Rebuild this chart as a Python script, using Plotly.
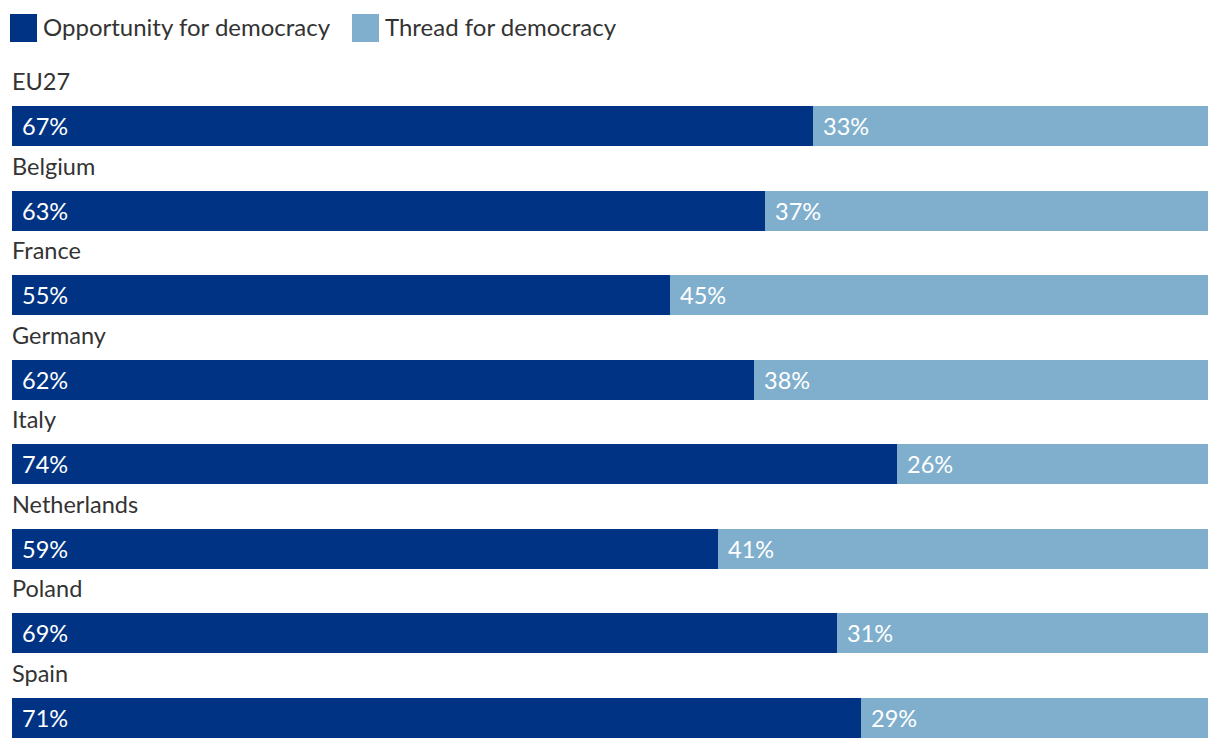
import plotly.graph_objects as go

countries = ["EU27", "Belgium", "France", "Germany", "Italy", "Netherlands", "Poland", "Spain"]
opportunity = [67, 63, 55, 62, 74, 59, 69, 71]
threat = [33, 37, 45, 38, 26, 41, 31, 29]
series_names = ["Opportunity for democracy", "Thread for democracy"]
colors = ["#003383", "#7FAFCD"]

FONT = "Lato, 'Open Sans', sans-serif"
TEXT = "#333333"
LBL = 23.5

fig = go.Figure()
fig.add_trace(go.Bar(y=countries, x=opportunity, orientation="h", name=series_names[0],
                     marker=dict(color=colors[0], line=dict(width=0)), width=0.473,
                     hoverinfo="x+y"))
fig.add_trace(go.Bar(y=countries, x=threat, orientation="h", name=series_names[1],
                     marker=dict(color=colors[1], line=dict(width=0)), width=0.473,
                     hoverinfo="x+y"))

annotations = []
for c, o, t in zip(countries, opportunity, threat):
    annotations.append(dict(x=0, y=c, xref="x", yref="y", text=c, showarrow=False,
                            xanchor="left", yanchor="middle", yshift=45, xshift=-2,
                            font=dict(family=FONT, size=LBL, color=TEXT)))
    annotations.append(dict(x=0, y=c, xref="x", yref="y", text=f"{o}%", showarrow=False,
                            xanchor="left", yanchor="middle", xshift=8,
                            font=dict(family=FONT, size=LBL, color="white")))
    annotations.append(dict(x=o, y=c, xref="x", yref="y", text=f"{t}%", showarrow=False,
                            xanchor="left", yanchor="middle", xshift=8,
                            font=dict(family=FONT, size=LBL, color="white")))

# custom legend (large square swatches)
shapes = []
legend_items = [(10, 41, series_names[0], colors[0]), (352, 383, series_names[1], colors[1])]
for sx, tx, name, col in legend_items:
    shapes.append(dict(type="rect", xref="paper", yref="paper",
                       x0=(sx - 12) / 1196, x1=(sx + 27 - 12) / 1196,
                       y0=(750 - 42) / 666, y1=(750 - 14) / 666,
                       fillcolor=col, line=dict(width=0)))
    annotations.append(dict(x=(tx - 12) / 1196, y=(750 - 27) / 666, xref="paper", yref="paper",
                            text=name, showarrow=False, xanchor="left", yanchor="middle",
                            font=dict(family=FONT, size=24, color=TEXT)))

fig.update_layout(
    barmode="stack",
    width=1220, height=750,
    margin=dict(l=12, r=12, t=84, b=0, pad=0),
    paper_bgcolor="white", plot_bgcolor="white",
    showlegend=False,
    xaxis=dict(range=[0, 100], visible=False, fixedrange=True),
    yaxis=dict(range=[7.378, -0.497], visible=False, fixedrange=True,
               categoryorder="array", categoryarray=countries),
    annotations=annotations,
    shapes=shapes,
    font=dict(family=FONT, size=22, color=TEXT),
)

fig.write_html("out.html", config={"displayModeBar": False},
               post_script="document.body.style.margin='0';document.body.style.overflow='hidden';")
